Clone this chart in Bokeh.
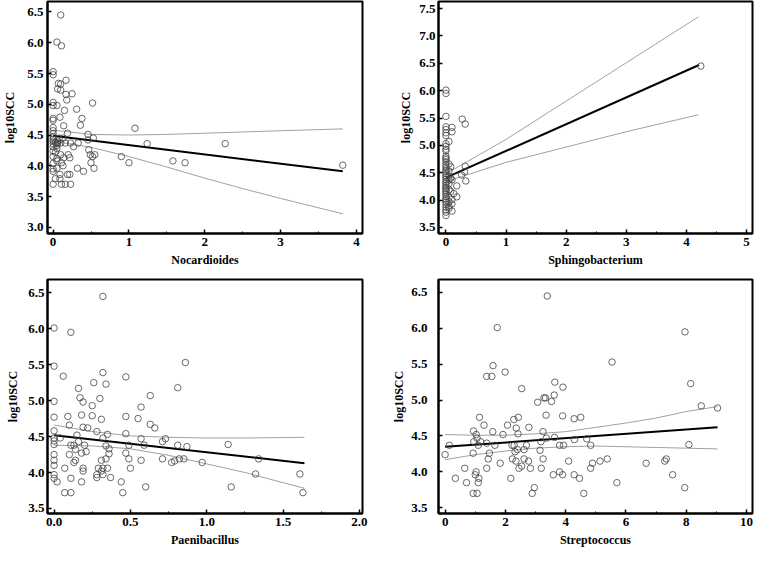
from bokeh.plotting import figure
from bokeh.layouts import gridplot
from bokeh.models import Range1d, FixedTicker, NumeralTickFormatter
from bokeh.embed import file_html
from bokeh.resources import INLINE

# ---------------- data: Nocardioides ----------------
noc_x = [0.10, 0.05, 0.11, 0.0, 0.0, 0.17, 0.07, 0.10, 0.06, 0.10, 0.25, 0.17, 0.18, 0.0, 0.52,
         0.0, 0.05, 0.31, 0.15, 0.09, 0.38, 0.0, 0.0, 0.36, 0.14, 1.08, 0.0, 0.0, 0.19, 0.46,
         0.0, 0.53, 0.0, 0.13, 0.0, 0.06, 0.46, 0.0, 0.03, 0.06, 0.10, 0.16, 1.24, 2.27, 0.0,
         0.05, 0.23, 0.33, 0.0, 0.05, 0.27, 0.47, 0.05, 0.0, 0.03, 0.20, 0.49, 0.55, 0.52, 0.90,
         0.10, 0.22, 0.14, 1.58, 0.0, 0.05, 0.50, 1.00, 1.74, 0.11, 0.05, 3.82, 0.0, 0.32, 0.54,
         0.05, 0.0, 0.40, 0.19, 0.22, 0.09, 0.03, 0.09, 0.0, 0.11, 0.16, 0.23, 0.0, 0.13, 0.08]
noc_y = [6.45, 6.01, 5.95, 5.53, 5.48, 5.39, 5.34, 5.33, 5.25, 5.23, 5.17, 5.16, 5.07, 5.03, 5.02,
         4.98, 4.98, 4.92, 4.90, 4.79, 4.77, 4.77, 4.74, 4.66, 4.65, 4.61, 4.62, 4.57, 4.53, 4.51,
         4.52, 4.45, 4.47, 4.45, 4.43, 4.40, 4.42, 4.40, 4.38, 4.37, 4.37, 4.37, 4.36, 4.36, 4.36,
         4.36, 4.37, 4.37, 4.31, 4.33, 4.31, 4.26, 4.28, 4.24, 4.22, 4.18, 4.18, 4.18, 4.15, 4.15,
         4.18, 4.13, 4.13, 4.08, 4.15, 4.12, 4.05, 4.05, 4.05, 4.05, 4.08, 4.01, 4.04, 3.96, 3.96,
         3.96, 3.91, 3.91, 3.86, 3.86, 3.86, 3.79, 3.79, 3.70, 3.70, 3.70, 3.70, 3.95, 4.00, 4.45]
noc_fit_x = [0.0, 3.82]
noc_fit_y = [4.49, 3.91]
noc_ci_x = [0.0, 0.5, 1.0, 1.5, 2.0, 2.5, 3.0, 3.82]
noc_ci_hi = [4.58, 4.51, 4.50, 4.51, 4.53, 4.55, 4.57, 4.60]
noc_ci_lo = [4.40, 4.30, 4.15, 3.98, 3.80, 3.63, 3.47, 3.22]

# ---------------- data: Sphingobacterium ----------------
sph_x = [4.24, 0.0, 0.0, 0.0, 0.27, 0.32, 0.0, 0.10, 0.0, 0.10, 0.0, 0.0, 0.05, 0.0, 0.0,
         0.0, 0.0, 0.0, 0.0, 0.0, 0.0, 0.05, 0.0, 0.08, 0.32, 0.0, 0.0, 0.0, 0.05, 0.31,
         0.0, 0.26, 0.0, 0.05, 0.0, 0.08, 0.0, 0.05, 0.10, 0.33, 0.0, 0.0, 0.05, 0.0, 0.18,
         0.0, 0.0, 0.05, 0.0, 0.08, 0.0, 0.13, 0.0, 0.18, 0.0, 0.05, 0.0, 0.10, 0.0, 0.05,
         0.0, 0.10, 0.0, 0.05, 0.0, 0.05, 0.10, 0.0, 0.0, 0.0]
sph_y = [6.45, 6.01, 5.95, 5.53, 5.48, 5.39, 5.34, 5.33, 5.29, 5.25, 5.23, 5.18, 5.07, 5.03, 4.98,
         4.93, 4.90, 4.80, 4.77, 4.74, 4.70, 4.66, 4.65, 4.61, 4.62, 4.61, 4.57, 4.53, 4.53, 4.52,
         4.49, 4.46, 4.45, 4.44, 4.42, 4.40, 4.38, 4.37, 4.37, 4.35, 4.34, 4.31, 4.30, 4.27, 4.26,
         4.24, 4.21, 4.19, 4.18, 4.16, 4.15, 4.12, 4.11, 4.06, 4.07, 4.05, 4.03, 4.01, 4.00, 3.97,
         3.96, 3.93, 3.92, 3.89, 3.87, 3.85, 3.80, 3.82, 3.78, 3.72]
sph_fit_x = [0.0, 4.21]
sph_fit_y = [4.41, 6.47]
sph_ci_x = [0.0, 1.0, 2.0, 3.0, 4.2]
sph_ci_hi = [4.48, 5.11, 5.81, 6.51, 7.35]
sph_ci_lo = [4.34, 4.69, 4.97, 5.25, 5.56]

# ---------------- data: Paenibacillus ----------------
pae_x = [0.32, 0.0, 0.11, 0.86, 0.0, 0.32, 0.06, 0.47, 0.26, 0.34, 0.81, 0.16, 0.63, 0.17, 0.30,
         0.0, 0.19, 0.57, 0.25, 0.18, 0.25, 0.0, 0.09, 0.47, 0.55, 0.31, 0.10, 0.63, 0.66, 0.19,
         0.22, 0.0, 0.28, 0.15, 0.47, 0.35, 0.04, 0.32, 0.0, 0.73, 0.57, 0.71, 0.16, 0.0, 0.0,
         0.11, 0.20, 0.13, 0.34, 0.49, 0.59, 0.81, 1.14, 0.87, 0.14, 0.36, 0.21, 0.18, 0.47, 0.10,
         0.0, 0.36, 0.31, 0.34, 0.49, 0.71, 0.82, 0.85, 1.34, 0.14, 0.57, 0.0, 0.13, 0.77, 0.97,
         0.79, 0.0, 0.07, 0.19, 0.29, 0.32, 0.35, 0.50, 0.19, 0.31, 0.0, 0.28, 0.32, 1.32, 1.61,
         0.0, 0.11, 0.28, 0.37, 0.02, 0.18, 0.44, 0.60, 1.16, 0.07, 0.11, 0.45, 1.63]
pae_y = [6.45, 6.01, 5.95, 5.53, 5.48, 5.39, 5.34, 5.33, 5.25, 5.23, 5.18, 5.17, 5.07, 5.04, 5.03,
         4.99, 4.98, 4.91, 4.93, 4.80, 4.79, 4.77, 4.78, 4.78, 4.75, 4.74, 4.66, 4.67, 4.62, 4.63,
         4.62, 4.58, 4.57, 4.52, 4.54, 4.53, 4.48, 4.48, 4.48, 4.47, 4.47, 4.43, 4.43, 4.44, 4.39,
         4.38, 4.38, 4.38, 4.37, 4.38, 4.38, 4.38, 4.39, 4.36, 4.32, 4.33, 4.29, 4.27, 4.27, 4.25,
         4.25, 4.26, 4.17, 4.19, 4.19, 4.19, 4.19, 4.19, 4.19, 4.17, 4.17, 4.17, 4.14, 4.14, 4.14,
         4.16, 4.10, 4.06, 4.06, 4.06, 4.06, 4.06, 4.06, 4.02, 4.02, 3.97, 3.97, 3.97, 3.98, 3.98,
         3.92, 3.92, 3.93, 3.93, 3.87, 3.87, 3.87, 3.80, 3.80, 3.72, 3.72, 3.72, 3.72]
pae_fit_x = [0.0, 1.64]
pae_fit_y = [4.52, 4.13]
pae_ci_x = [0.0, 0.25, 0.5, 0.75, 1.0, 1.25, 1.64]
pae_ci_hi = [4.66, 4.57, 4.51, 4.49, 4.48, 4.48, 4.49]
pae_ci_lo = [4.38, 4.37, 4.33, 4.24, 4.12, 4.00, 3.78]

# ---------------- data: Streptococcus ----------------
str_x = [3.39, 1.73, 7.96, 5.54, 1.59, 1.99, 1.38, 1.55, 3.64, 8.15, 3.91, 2.54, 3.62, 3.28, 3.33,
         3.53, 3.07, 8.50, 9.04, 3.35, 3.90, 1.14, 2.43, 4.50, 4.28, 2.28, 1.29, 2.07, 2.36, 2.78,
         1.58, 0.94, 3.25, 1.92, 2.42, 1.03, 3.63, 3.36, 4.29, 4.70, 1.06, 0.95, 1.18, 3.18, 1.38,
         2.22, 2.29, 1.65, 2.70, 3.80, 3.93, 4.83, 8.09, 0.14, 1.10, 2.32, 2.62, 3.15, 1.47, 0.93,
         0.0, 2.40, 3.25, 1.43, 2.23, 2.62, 2.77, 2.35, 4.10, 5.14, 5.38, 6.67, 7.29, 7.34, 1.83,
         4.89, 2.54, 3.19, 2.45, 2.83, 1.38, 0.65, 4.83, 1.03, 3.80, 1.00, 3.59, 3.90, 4.28, 7.55,
         1.12, 0.34, 2.18, 4.46, 1.10, 0.71, 5.70, 2.96, 7.95, 2.89, 0.93, 1.06, 4.60]
str_y = [6.45, 6.01, 5.95, 5.53, 5.48, 5.39, 5.33, 5.33, 5.25, 5.23, 5.18, 5.16, 5.07, 5.03, 5.03,
         4.98, 4.97, 4.92, 4.89, 4.79, 4.78, 4.76, 4.76, 4.76, 4.74, 4.73, 4.65, 4.65, 4.61, 4.62,
         4.56, 4.57, 4.56, 4.52, 4.53, 4.52, 4.48, 4.47, 4.45, 4.46, 4.47, 4.42, 4.42, 4.42, 4.40,
         4.37, 4.37, 4.37, 4.37, 4.37, 4.37, 4.37, 4.38, 4.37, 4.37, 4.28, 4.31, 4.30, 4.26, 4.26,
         4.24, 4.31, 4.18, 4.18, 4.18, 4.18, 4.15, 4.15, 4.15, 4.15, 4.18, 4.12, 4.15, 4.18, 4.12,
         4.12, 4.08, 4.05, 4.05, 4.05, 4.05, 4.05, 4.05, 4.00, 4.00, 3.96, 3.96, 3.96, 3.96, 3.96,
         3.91, 3.91, 3.91, 3.91, 3.85, 3.85, 3.85, 3.78, 3.78, 3.70, 3.70, 3.70, 3.70]
str_fit_x = [0.0, 9.04]
str_fit_y = [4.35, 4.62]
str_ci_x = [0.0, 1.0, 2.0, 3.0, 4.0, 5.0, 6.0, 7.0, 8.0, 9.04]
str_ci_hi = [4.52, 4.51, 4.51, 4.53, 4.56, 4.62, 4.68, 4.75, 4.84, 4.91]
str_ci_lo = [4.17, 4.24, 4.29, 4.33, 4.35, 4.36, 4.35, 4.34, 4.33, 4.32]

FONT = "Liberation Serif"


def make_panel(xs, ys, fx, fy, cx, chi, clo, xlabel, xr, yr, xticks, xminor, yticks,
               bl, br, bt, bb, xfmt, lab_stand, title_stand, xtitle_stand):
    p = figure(width=378, height=276, output_backend="svg", toolbar_location=None,
               x_range=Range1d(*xr), y_range=Range1d(*yr),
               min_border_left=bl, min_border_right=br, min_border_top=bt, min_border_bottom=bb,
               background_fill_color="white", border_fill_color="white")
    p.outline_line_color = "black"
    p.outline_line_width = 2
    p.outline_line_alpha = 1.0
    p.xgrid.visible = False
    p.ygrid.visible = False

    p.line(cx, chi, line_color="#a0a0a0", line_width=1)
    p.line(cx, clo, line_color="#a0a0a0", line_width=1)
    p.line(fx, fy, line_color="black", line_width=2)
    p.scatter(xs, ys, marker="circle", size=6.5, fill_color=None,
              line_color="#444444", line_width=0.8)

    p.xaxis.ticker = FixedTicker(ticks=xticks, minor_ticks=xminor)
    p.yaxis.ticker = FixedTicker(ticks=yticks, minor_ticks=[])
    p.yaxis.formatter = NumeralTickFormatter(format="0.0")
    if xfmt:
        p.xaxis.formatter = NumeralTickFormatter(format=xfmt)
    p.xaxis.axis_label = xlabel
    p.yaxis.axis_label = "log10SCC"

    for ax in (p.xaxis[0], p.yaxis[0]):
        ax.axis_line_color = "black"
        ax.axis_line_width = 2
        ax.major_tick_in = 4
        ax.major_tick_out = 0
        ax.minor_tick_in = 2
        ax.minor_tick_out = 0
        ax.major_tick_line_color = "black"
        ax.major_tick_line_width = 1.5
        ax.minor_tick_line_color = "black"
        ax.minor_tick_line_width = 1
        ax.major_label_text_font = FONT
        ax.major_label_text_font_size = "13px"
        ax.major_label_text_font_style = "bold"
        ax.major_label_text_color = "black"
        ax.axis_label_text_font = FONT
        ax.axis_label_text_font_size = "12px"
        ax.axis_label_text_font_style = "bold"
        ax.axis_label_text_color = "black"
    p.xaxis.major_label_standoff = 4
    p.xaxis.axis_label_standoff = xtitle_stand
    p.yaxis.major_label_standoff = lab_stand
    p.yaxis.axis_label_standoff = title_stand
    return p


p1 = make_panel(noc_x, noc_y, noc_fit_x, noc_fit_y, noc_ci_x, noc_ci_hi, noc_ci_lo,
                "Nocardioides", (-0.074, 4.08), (2.90, 6.67),
                [0, 1, 2, 3, 4], [0.5, 1.5, 2.5, 3.5], [3.0, 3.5, 4.0, 4.5, 5.0, 5.5, 6.0, 6.5],
                44, 16, 1, 43, None, 4, 7, 4)
p2 = make_panel(sph_x, sph_y, sph_fit_x, sph_fit_y, sph_ci_x, sph_ci_hi, sph_ci_lo,
                "Sphingobacterium", (-0.124, 5.10), (3.39, 7.63),
                [0, 1, 2, 3, 4, 5], [0.5, 1.5, 2.5, 3.5, 4.5], [3.5, 4.0, 4.5, 5.0, 5.5, 6.0, 6.5, 7.0, 7.5],
                50, 4, 1, 40, None, 3, 3, 4)
p3 = make_panel(pae_x, pae_y, pae_fit_x, pae_fit_y, pae_ci_x, pae_ci_hi, pae_ci_lo,
                "Paenibacillus", (-0.043, 2.02), (3.43, 6.685),
                [0.0, 0.5, 1.0, 1.5, 2.0], [0.25, 0.75, 1.25, 1.75], [3.5, 4.0, 4.5, 5.0, 5.5, 6.0, 6.5],
                44, 13, 3, 39, "0.0", 3, 5, 4)
p4 = make_panel(str_x, str_y, str_fit_x, str_fit_y, str_ci_x, str_ci_hi, str_ci_lo,
                "Streptococcus", (-0.22, 10.2), (3.42, 6.68),
                [0, 2, 4, 6, 8, 10], [1, 3, 5, 7, 9], [3.5, 4.0, 4.5, 5.0, 5.5, 6.0, 6.5],
                60, 2, 3, 38, None, 11, 2, 4)

grid = gridplot([[p1, p2], [p3, p4]], toolbar_location=None)
open("out.html", "w").write(file_html(grid, INLINE))
